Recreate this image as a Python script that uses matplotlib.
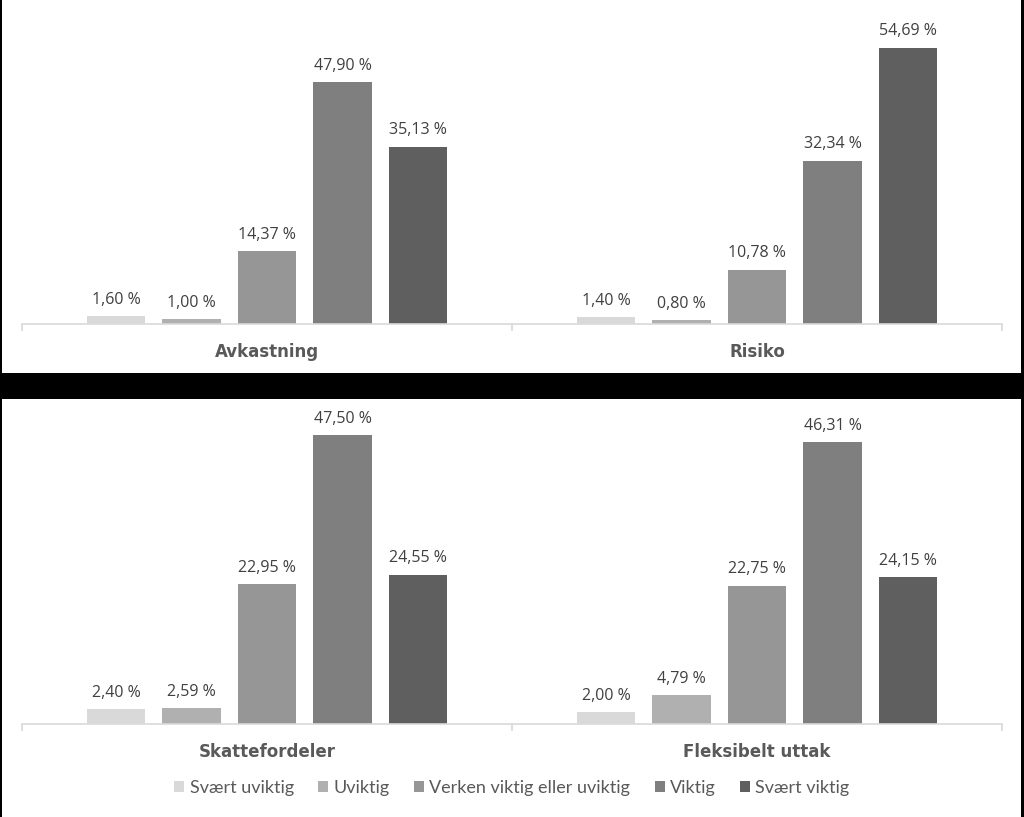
import numpy as np
import matplotlib.pyplot as plt
from matplotlib.patches import Rectangle, Patch

# -------------------------------------------------
# DATA
# -------------------------------------------------
categories_top = ["Avkastning", "Risiko"]
categories_bottom = ["Skattefordeler", "Fleksibelt uttak"]

series_names = ["Svært uviktig", "Uviktig", "Verken viktig eller uviktig",
                "Viktig", "Svært viktig"]

# values per series, order: Avkastning, Risiko, Skattefordeler, Fleksibelt uttak
svaert_uviktig = [1.60, 1.40, 2.40, 2.00]
uviktig = [1.00, 0.80, 2.59, 4.79]
verken = [14.37, 10.78, 22.95, 22.75]
viktig = [47.90, 32.34, 47.50, 46.31]
svaert_viktig = [35.13, 54.69, 24.55, 24.15]

series_values = [svaert_uviktig, uviktig, verken, viktig, svaert_viktig]
colors = ["#d9d9d9", "#b0b0b0", "#969696", "#7f7f7f", "#5f5f5f"]

# -------------------------------------------------
# FIGURE
# -------------------------------------------------
W, H = 1024, 817
fig = plt.figure(figsize=(W / 100, H / 100), dpi=100)
fig.patch.set_facecolor("white")


def px_axes(x0, y_top, x1, y_bot):
    # pixel box (origin top-left) -> figure axes
    return fig.add_axes([x0 / W, 1 - y_bot / H, (x1 - x0) / W, (y_bot - y_top) / H])


step = 0.154
width = 0.12
offsets = (np.arange(5) - 2) * step


def draw_panel(ax, cats, idx, ymax):
    x = np.arange(len(cats))
    for k in range(5):
        vals = [series_values[k][i] for i in idx]
        bars = ax.bar(x + offsets[k], vals, width, color=colors[k], zorder=2)
        for b, v in zip(bars, vals):
            ax.annotate(f"{v:.2f} %".replace(".", ","),
                        (b.get_x() + b.get_width() / 2, b.get_height()),
                        xytext=(0, 6), textcoords="offset points",
                        ha="center", va="bottom", fontsize=11.5,
                        color="#404040", family="Open Sans")
    ax.set_xlim(-0.5, len(cats) - 0.5)
    ax.set_ylim(0, ymax)
    for s in ["top", "left", "right"]:
        ax.spines[s].set_visible(False)
    ax.spines["bottom"].set_color("#d9d9d9")
    ax.spines["bottom"].set_linewidth(1.2)
    ax.set_yticks([])
    ax.set_xticks(x)
    ax.set_xticklabels(cats, fontsize=12, fontweight="bold", color="#595959",
                       family="DejaVu Sans")
    ax.tick_params(axis="x", which="major", length=0, pad=14)
    ax.set_xticks(np.arange(len(cats) + 1) - 0.5, minor=True)
    ax.tick_params(axis="x", which="minor", length=5, color="#d9d9d9", width=1.2)
    ax.set_facecolor("none")


ax_top = px_axes(22, 21, 1002, 324)
draw_panel(ax_top, categories_top, [0, 1], 60)

ax_bot = px_axes(22, 420, 1002, 724)
draw_panel(ax_bot, categories_bottom, [2, 3], 50)

# black separator band and side borders
fig.patches.append(Rectangle((0, 1 - 399 / H), 1, 26 / H, transform=fig.transFigure,
                             facecolor="black", edgecolor="none", zorder=5))
fig.patches.append(Rectangle((0, 0), 2 / W, 1, transform=fig.transFigure,
                             facecolor="black", edgecolor="none", zorder=5))
fig.patches.append(Rectangle((1 - 3 / W, 0), 3 / W, 1, transform=fig.transFigure,
                             facecolor="black", edgecolor="none", zorder=5))

# legend
handles = [Patch(facecolor=c, edgecolor="none") for c in colors]
leg = fig.legend(handles, series_names, loc="center", bbox_to_anchor=(0.5, 1 - 788 / H),
                 ncol=5, frameon=False, handlelength=0.55, handleheight=0.55,
                 handletextpad=0.3, columnspacing=1.35,
                 prop={"family": "Lato", "size": 13})
for t in leg.get_texts():
    t.set_color("#595959")

fig.savefig("out.png", dpi=100)
